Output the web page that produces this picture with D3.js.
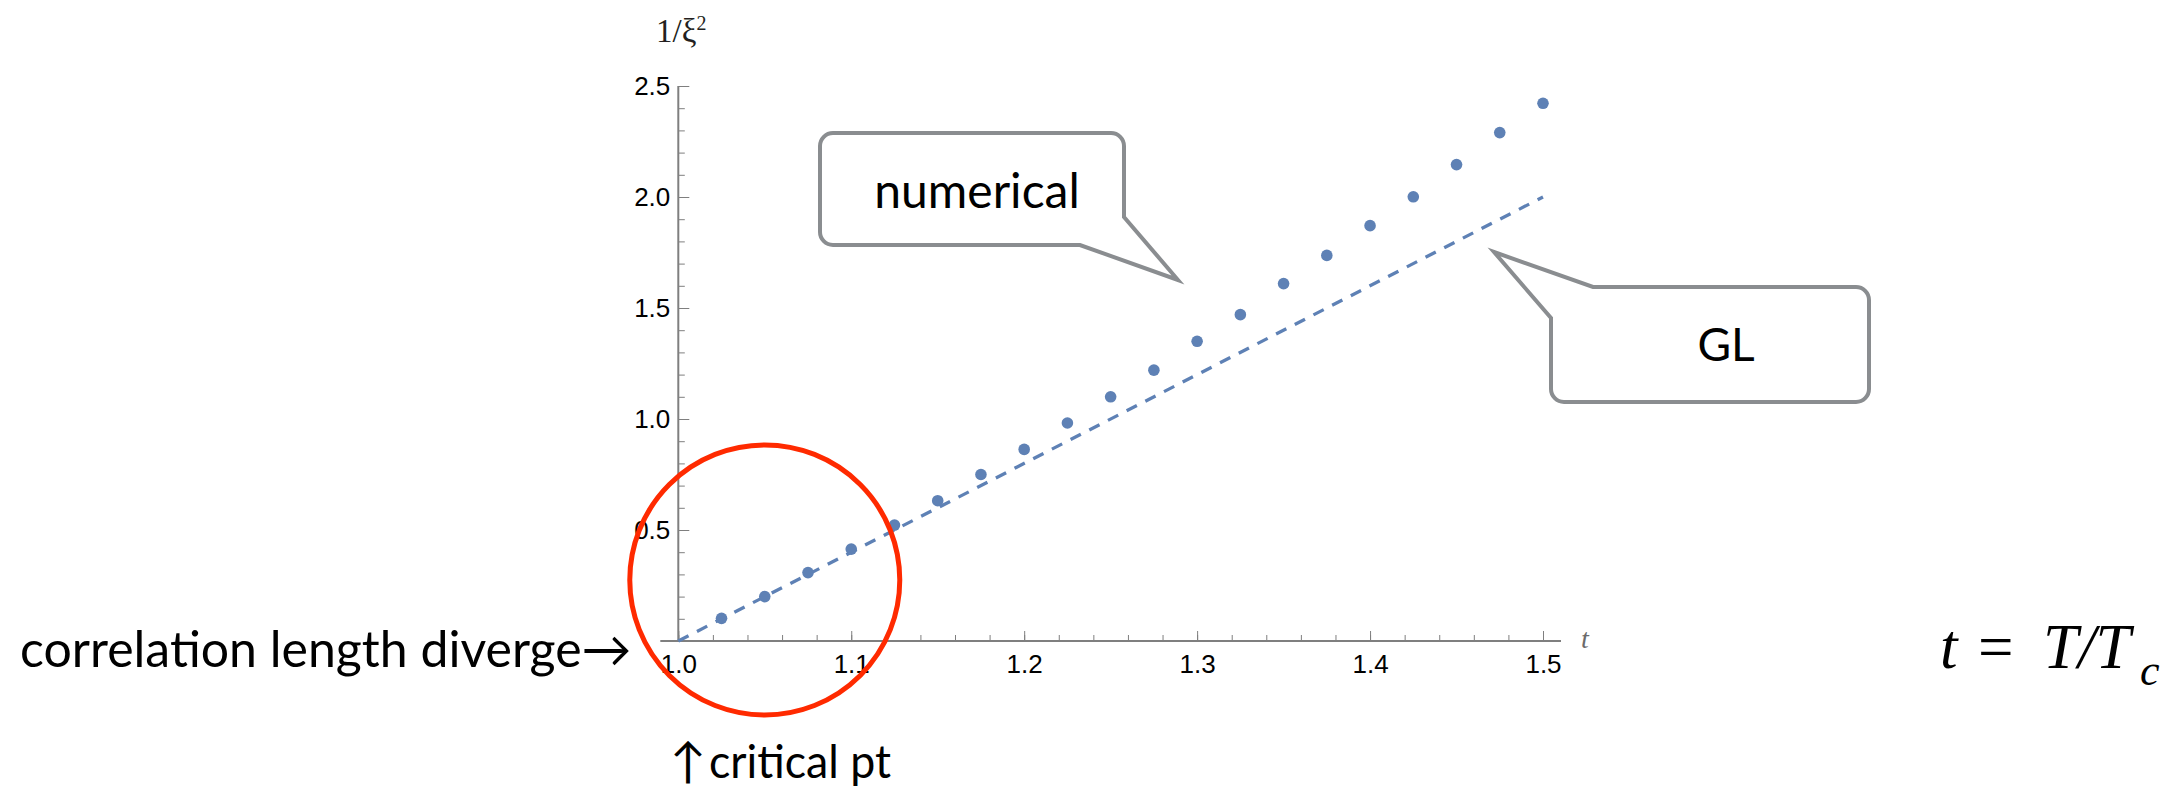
<!DOCTYPE html>
<html>
<head>
<meta charset="utf-8">
<script src="https://cdn.jsdelivr.net/npm/d3@7"></script>
<style>
  html, body { margin: 0; padding: 0; background: #ffffff; }
  svg { display: block; }
</style>
</head>
<body>
<svg id="chart" width="2181" height="793"></svg>
<script>
// Reduced temperature t = T/Tc
const tValues = [1.025, 1.05, 1.075, 1.1, 1.125, 1.15, 1.175, 1.2, 1.225, 1.25,
                 1.275, 1.3, 1.325, 1.35, 1.375, 1.4, 1.425, 1.45, 1.475, 1.5];
// Inverse squared correlation length, numerical solution
const numericalValues = [0.102, 0.200, 0.308, 0.414, 0.522, 0.632, 0.750, 0.863, 0.982, 1.100,
                         1.220, 1.350, 1.470, 1.610, 1.737, 1.871, 2.001, 2.146, 2.290, 2.422];
// Ginzburg-Landau prediction
const glT = [1.0, 1.5];
const glValues = [0.0, 2.0];

const xTickValues = [1.0, 1.1, 1.2, 1.3, 1.4, 1.5];
const xTickLabels = ["1.0", "1.1", "1.2", "1.3", "1.4", "1.5"];
const yTickValues = [0.5, 1.0, 1.5, 2.0, 2.5];
const yTickLabels = ["0.5", "1.0", "1.5", "2.0", "2.5"];

const svg = d3.select("#chart");
const W = 2181, H = 793;
svg.append("rect").attr("width", W).attr("height", H).attr("fill", "#ffffff");

const x = d3.scaleLinear().domain([1.0, 1.5]).range([678.3, 1543]);
const y = d3.scaleLinear().domain([0, 2.5]).range([641, 86]);

const axisGray = "#7f7f7f";
const blue = "#5e81b5";
const tickFont = "'Liberation Sans', Arial, Helvetica, sans-serif";

// ---- axes ----
const minorX = d3.range(1.0, 1.5001, 0.02).map(v => +v.toFixed(2));
const minorY = d3.range(0, 2.5001, 0.1).map(v => +v.toFixed(2));

const gx = svg.append("g").attr("transform", `translate(0,${y(0)})`);
gx.append("g")
  .call(d3.axisBottom(x).tickValues(minorX).tickSize(-6).tickFormat(""))
  .call(g => g.select(".domain").remove());
gx.append("g")
  .call(d3.axisBottom(x).tickValues(xTickValues).tickSize(-10).tickPadding(14)
          .tickFormat((d, i) => xTickLabels[i]))
  .call(g => g.select(".domain").remove())
  .call(g => g.selectAll("text").attr("font-family", tickFont).attr("font-size", 26).attr("fill", "#000"));
gx.selectAll(".tick line").attr("stroke", axisGray).attr("stroke-width", 1);
gx.append("line")
  .attr("x1", x(1.0) - 18).attr("x2", x(1.5) + 18)
  .attr("stroke", axisGray).attr("stroke-width", 2);

const gy = svg.append("g").attr("transform", `translate(${x(1.0)},0)`);
gy.append("g")
  .call(d3.axisLeft(y).tickValues(minorY).tickSize(-6.5).tickFormat(""))
  .call(g => g.select(".domain").remove());
gy.append("g")
  .call(d3.axisLeft(y).tickValues(yTickValues).tickSize(-11).tickPadding(8)
          .tickFormat((d, i) => yTickLabels[i]))
  .call(g => g.select(".domain").remove())
  .call(g => g.selectAll("text").attr("font-family", tickFont).attr("font-size", 26).attr("fill", "#000"));
gy.selectAll(".tick line").attr("stroke", axisGray).attr("stroke-width", 1);
gy.append("line")
  .attr("y1", y(0)).attr("y2", y(2.5))
  .attr("stroke", axisGray).attr("stroke-width", 2);

// axis labels
const yLab = svg.append("text")
  .attr("x", 656).attr("y", 42)
  .attr("font-family", "'Liberation Serif', 'Times New Roman', serif")
  .attr("font-size", 33).attr("fill", "#231f20");
yLab.append("tspan").text("1/ξ");
yLab.append("tspan").attr("font-size", 20).attr("dy", -12).text("2");

svg.append("text")
  .attr("x", 1581).attr("y", 648)
  .attr("font-family", "'Liberation Serif', 'Times New Roman', serif")
  .attr("font-style", "italic").attr("font-size", 28).attr("fill", "#6b6b6b")
  .text("t");

// ---- GL dashed line ----
const glLine = d3.line().x((d, i) => x(glT[i])).y(d => y(d));
svg.append("path")
  .datum(glValues)
  .attr("d", glLine)
  .attr("fill", "none")
  .attr("stroke", blue)
  .attr("stroke-width", 3.3)
  .attr("stroke-dasharray", "11.5,9.5");

// ---- numerical points ----
svg.append("g").selectAll("circle")
  .data(numericalValues)
  .join("circle")
  .attr("cx", (d, i) => x(tValues[i]))
  .attr("cy", d => y(d))
  .attr("r", 5.8)
  .attr("fill", blue);

// ---- highlight near the critical point ----
svg.append("circle")
  .attr("cx", x(1.05)).attr("cy", y(0.275))
  .attr("r", 135)
  .attr("fill", "none")
  .attr("stroke", "#ff2a00")
  .attr("stroke-width", 5);

// ---- speech-bubble callouts ----
const calloutGray = "#8a8d90";
const annFont = "Lato, 'Open Sans', 'DejaVu Sans', sans-serif";

function bubbleNumerical(L, T, R, B, r, tailTop, tip, tailBottomX) {
  const p = d3.path();
  p.moveTo(L + r, T);
  p.lineTo(R - r, T);
  p.arcTo(R, T, R, T + r, r);
  p.lineTo(R, tailTop);
  p.lineTo(tip[0], tip[1]);
  p.lineTo(tailBottomX, B);
  p.lineTo(L + r, B);
  p.arcTo(L, B, L, B - r, r);
  p.lineTo(L, T + r);
  p.arcTo(L, T, L + r, T, r);
  p.closePath();
  return p.toString();
}

function bubbleGL(L, T, R, B, r, tailTopX, tip, tailLeftY) {
  const p = d3.path();
  p.moveTo(tailTopX, T);
  p.lineTo(R - r, T);
  p.arcTo(R, T, R, T + r, r);
  p.lineTo(R, B - r);
  p.arcTo(R, B, R - r, B, r);
  p.lineTo(L + r, B);
  p.arcTo(L, B, L, B - r, r);
  p.lineTo(L, tailLeftY);
  p.lineTo(tip[0], tip[1]);
  p.closePath();
  return p.toString();
}

svg.append("path")
  .attr("d", bubbleNumerical(820, 133, 1124, 245, 13, 217, [1178, 280], 1080))
  .attr("fill", "#ffffff").attr("stroke", calloutGray).attr("stroke-width", 4)
  .attr("stroke-linejoin", "miter").attr("stroke-miterlimit", 10);
svg.append("text")
  .attr("x", 977).attr("y", 208).attr("text-anchor", "middle")
  .attr("font-family", annFont).attr("font-size", 48).attr("fill", "#000")
  .text("numerical");

svg.append("path")
  .attr("d", bubbleGL(1551, 287, 1869, 402, 13, 1593, [1494, 252], 318))
  .attr("fill", "#ffffff").attr("stroke", calloutGray).attr("stroke-width", 4)
  .attr("stroke-linejoin", "miter").attr("stroke-miterlimit", 10);
svg.append("text")
  .attr("x", 1726).attr("y", 361).attr("text-anchor", "middle")
  .attr("font-family", annFont).attr("font-size", 46).attr("fill", "#000")
  .text("GL");

// ---- side notes ----
svg.append("text")
  .attr("x", 20).attr("y", 667)
  .attr("font-family", annFont).attr("font-size", 50).attr("fill", "#000")
  .text("correlation length diverge→");

svg.append("text")
  .attr("x", 670).attr("y", 778)
  .attr("font-family", annFont).attr("font-size", 48).attr("fill", "#000")
  .text("↑");
svg.append("text")
  .attr("x", 709).attr("y", 778)
  .attr("font-family", annFont).attr("font-size", 46).attr("fill", "#000")
  .attr("textLength", 182).attr("lengthAdjust", "spacingAndGlyphs")
  .text("critical pt");

const eq = svg.append("text")
  .attr("y", 668)
  .attr("font-family", "'Liberation Serif', 'Times New Roman', serif")
  .attr("font-size", 63).attr("fill", "#000");
eq.append("tspan").attr("x", 1940).attr("font-style", "italic").text("t");
eq.append("tspan").attr("x", 1978).text("=");
eq.append("tspan").attr("x", 2043).attr("font-style", "italic").text("T/T");
eq.append("tspan").attr("x", 2140).attr("dy", 17).attr("font-style", "italic").attr("font-size", 44).text("c");
</script>
</body>
</html>
